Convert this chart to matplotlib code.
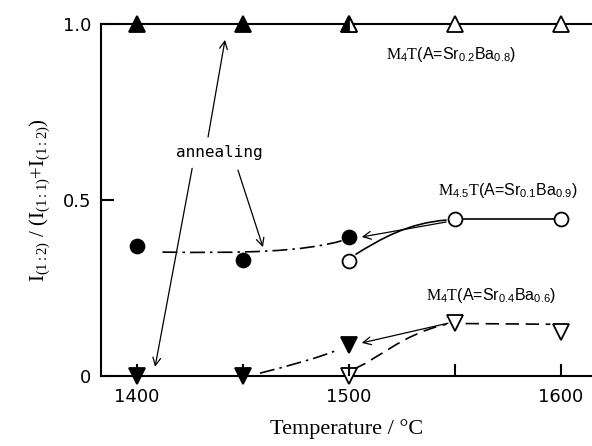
import matplotlib
matplotlib.use('Agg')
import matplotlib.pyplot as plt
from matplotlib.path import Path
from matplotlib.patches import PathPatch

plt.rcParams['mathtext.fontset'] = 'custom'
plt.rcParams['mathtext.rm'] = 'Liberation Serif'
plt.rcParams['mathtext.sf'] = 'Liberation Sans'
plt.rcParams['mathtext.it'] = 'Liberation Serif:italic'

# M4T (A=Sr0.2Ba0.8): annealed (filled) and as-sintered (open)
sr02_anneal_t = [1400, 1450, 1500]
sr02_anneal_v = [1.0, 1.0, 1.0]
sr02_open_t = [1500, 1550, 1600]
sr02_open_v = [1.0, 1.0, 1.0]

# M4.5T (A=Sr0.1Ba0.9)
sr01_anneal_t = [1400, 1450, 1500]
sr01_anneal_v = [0.37, 0.33, 0.395]
sr01_open_t = [1500, 1550, 1600]
sr01_open_v = [0.327, 0.446, 0.446]

# M4T (A=Sr0.4Ba0.6)
sr04_anneal_t = [1400, 1450, 1500]
sr04_anneal_v = [0.0, 0.0, 0.088]
sr04_open_t = [1500, 1550, 1600]
sr04_open_v = [0.0, 0.15, 0.125]

# hand-drawn guide curves (cubic bezier control points)
sr01_anneal_guide = [(1412, 0.352), (1450, 0.349), (1478, 0.352), (1497, 0.385)]
sr01_open_guide = [(1503, 0.345), (1515, 0.39), (1528, 0.435), (1546, 0.443)]
sr04_anneal_guide = [(1458, 0.008), (1472, 0.03), (1485, 0.05), (1495, 0.075)]
sr04_open_guide = [(1502, 0.02), (1512, 0.04), (1525, 0.12), (1546, 0.147)]
sr04_open_tail = ([1555, 1595], [0.149, 0.147])

# annotation arrows: (start, end)
annealing_arrows = [((1433.5, 0.679), (1441.5, 0.955)),
                    ((1426.0, 0.590), (1408.5, 0.026)),
                    ((1447.6, 0.585), (1459.4, 0.366))]
return_arrows = [((1545.8, 0.4375), (1506.0, 0.395)),
                 ((1546.7, 0.150), (1506.0, 0.094))]

fig = plt.figure(figsize=(5.92, 4.46), dpi=100)
ax = fig.add_axes([101 / 592, 70 / 446, 491 / 592, 352 / 446])
ax.set_xlim(1383, 1614.6)
ax.set_ylim(0, 1.0)

dashdot = (0, (9, 3, 1.5, 3))
dashed = (0, (8, 4))


def bezier(pts, ls):
    path = Path(pts, [Path.MOVETO, Path.CURVE4, Path.CURVE4, Path.CURVE4])
    ax.add_patch(PathPatch(path, fill=False, lw=1.2, ls=ls, color='black'))


bezier(sr01_anneal_guide, dashdot)
bezier(sr01_open_guide, '-')
bezier(sr04_anneal_guide, dashdot)
bezier(sr04_open_guide, dashed)
ax.plot(*sr04_open_tail, color='black', lw=1.2, ls=dashed)

kw = dict(color='black', clip_on=False, zorder=5, mew=1.3)

# top series
ax.plot(sr02_open_t, sr02_open_v, '^', ms=12, mfc='white', **kw)
ax.plot(sr02_anneal_t[:2], sr02_anneal_v[:2], '^', ms=12, mfc='black', **kw)
ax.plot(sr02_anneal_t[2:], sr02_anneal_v[2:], '^', ms=12, mfc='black',
        fillstyle='left', markerfacecoloralt='white', **kw)

# middle series
ax.plot(sr01_open_t[1:], sr01_open_v[1:], '-', color='black', lw=1.2)
ax.plot(sr01_open_t, sr01_open_v, 'o', ms=10, mfc='white', **kw)
ax.plot(sr01_anneal_t, sr01_anneal_v, 'o', ms=10, mfc='black', **kw)

# bottom series
ax.plot(sr04_open_t, sr04_open_v, 'v', ms=12, mfc='white', **kw)
ax.plot(sr04_anneal_t, sr04_anneal_v, 'v', ms=12, mfc='black', **kw)

for start, end in annealing_arrows + return_arrows:
    ax.annotate('', xy=end, xytext=start,
                arrowprops=dict(arrowstyle='->', lw=0.9, color='black',
                                shrinkA=0, shrinkB=0, mutation_scale=14))

ax.text(1438.7, 0.634, 'annealing', fontsize=11.5, family='DejaVu Sans Mono',
        ha='center', va='center')

ax.text(1548, 0.912, r'$\mathrm{M}_{\mathsf{4}}\mathrm{T}$(A=Sr$_{\mathsf{0.2}}$Ba$_{\mathsf{0.8}}$)',
        fontsize=11.5, family='Liberation Sans', ha='center', va='center')
ax.text(1575, 0.528, r'$\mathrm{M}_{\mathsf{4.5}}\mathrm{T}$(A=Sr$_{\mathsf{0.1}}$Ba$_{\mathsf{0.9}}$)',
        fontsize=11.5, family='Liberation Sans', ha='center', va='center')
ax.text(1567, 0.23, r'$\mathrm{M}_{\mathsf{4}}\mathrm{T}$(A=Sr$_{\mathsf{0.4}}$Ba$_{\mathsf{0.6}}$)',
        fontsize=11.5, family='Liberation Sans', ha='center', va='center')

ax.spines['right'].set_visible(False)
for s in ['left', 'bottom', 'top']:
    ax.spines[s].set_linewidth(1.5)

ax.set_xticks([1400, 1500, 1600])
ax.set_xticks([1450, 1550], minor=True)
ax.set_yticks([0, 0.5, 1.0])
ax.set_yticklabels(['0', '0.5', '1.0'])
ax.tick_params(which='both', direction='in', length=9, width=1.5,
               labelsize=13, top=False, right=False)
ax.tick_params(axis='x', pad=9)
ax.tick_params(axis='y', pad=7)
ax.xaxis.set_zorder(6)

ax.set_xlabel('Temperature / °C', family='Liberation Serif', fontsize=16, labelpad=9)
ax.set_ylabel(r'I$_{\mathrm{(1:2)}}$ / (I$_{\mathrm{(1:1)}}$+I$_{\mathrm{(1:2)}}$)',
              family='Liberation Serif', fontsize=15, labelpad=8)

fig.savefig('out.png', dpi=100)
